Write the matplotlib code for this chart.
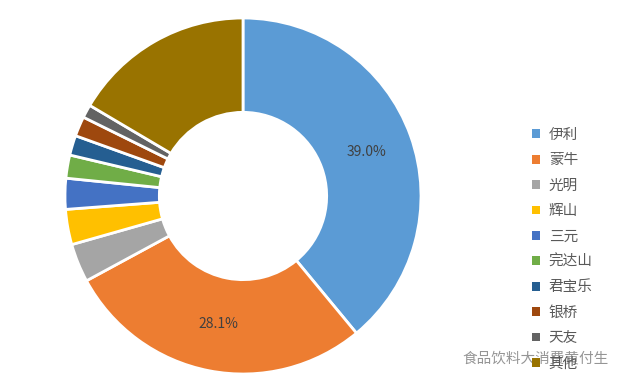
import matplotlib
matplotlib.use("Agg")
import matplotlib.pyplot as plt
from matplotlib.patches import Patch
import numpy as np

plt.rcParams['font.family'] = ['Noto Sans CJK SC', 'DejaVu Sans']

brands = ['伊利', '蒙牛', '光明', '辉山', '三元', '完达山', '君宝乐', '银桥', '天友', '其他']
shares = [39.0, 28.1, 3.5, 3.2, 2.8, 2.1, 1.8, 1.8, 1.2, 16.5]
shown_labels = ['39.0%', '28.1%', '', '', '', '', '', '', '', '']
colors = ['#5B9BD5', '#ED7D31', '#A5A5A5', '#FFC000', '#4472C4',
          '#70AD47', '#255E91', '#9E480E', '#636363', '#997300']
watermark = '食品饮料大消费黄付生'

W, H = 640, 386
fig = plt.figure(figsize=(W / 100, H / 100), dpi=100)
cx, cy, R = 243, 196, 178
ax = fig.add_axes([(cx - R) / W, (H - cy - R) / H, 2 * R / W, 2 * R / H])

wedges, _ = ax.pie(shares, colors=colors, startangle=90, counterclock=False,
                   radius=1.0,
                   wedgeprops=dict(width=0.53, edgecolor='white', linewidth=2))
inner_mid = 1.0 - 0.53 / 2
cum = np.cumsum([0] + shares[:-1])
for s, c, lab in zip(shares, cum, shown_labels):
    if not lab:
        continue
    ang = np.deg2rad(90 - (c + s / 2) * 3.6)
    ax.text(inner_mid * np.cos(ang), inner_mid * np.sin(ang), lab,
            ha='center', va='center', fontsize=10, color='#404040')
ax.set_xlim(-1, 1)
ax.set_ylim(-1, 1)
ax.set_aspect('equal')
ax.axis('off')

handles = [Patch(facecolor=c, edgecolor='none') for c in colors]
leg = fig.legend(handles, brands, loc='upper left',
                 bbox_to_anchor=(532 / W, 1 - 128 / H),
                 frameon=False, fontsize=10.5, labelcolor='#595959',
                 handlelength=0.55, handleheight=0.55, handletextpad=0.6,
                 labelspacing=0.78, borderpad=0, borderaxespad=0)

fig.text(462 / W, 1 - 358 / H, watermark, fontsize=10.5, color='#8a8a8a',
         ha='left', va='center', alpha=0.9)

fig.savefig('out.png', dpi=100, facecolor='white')
